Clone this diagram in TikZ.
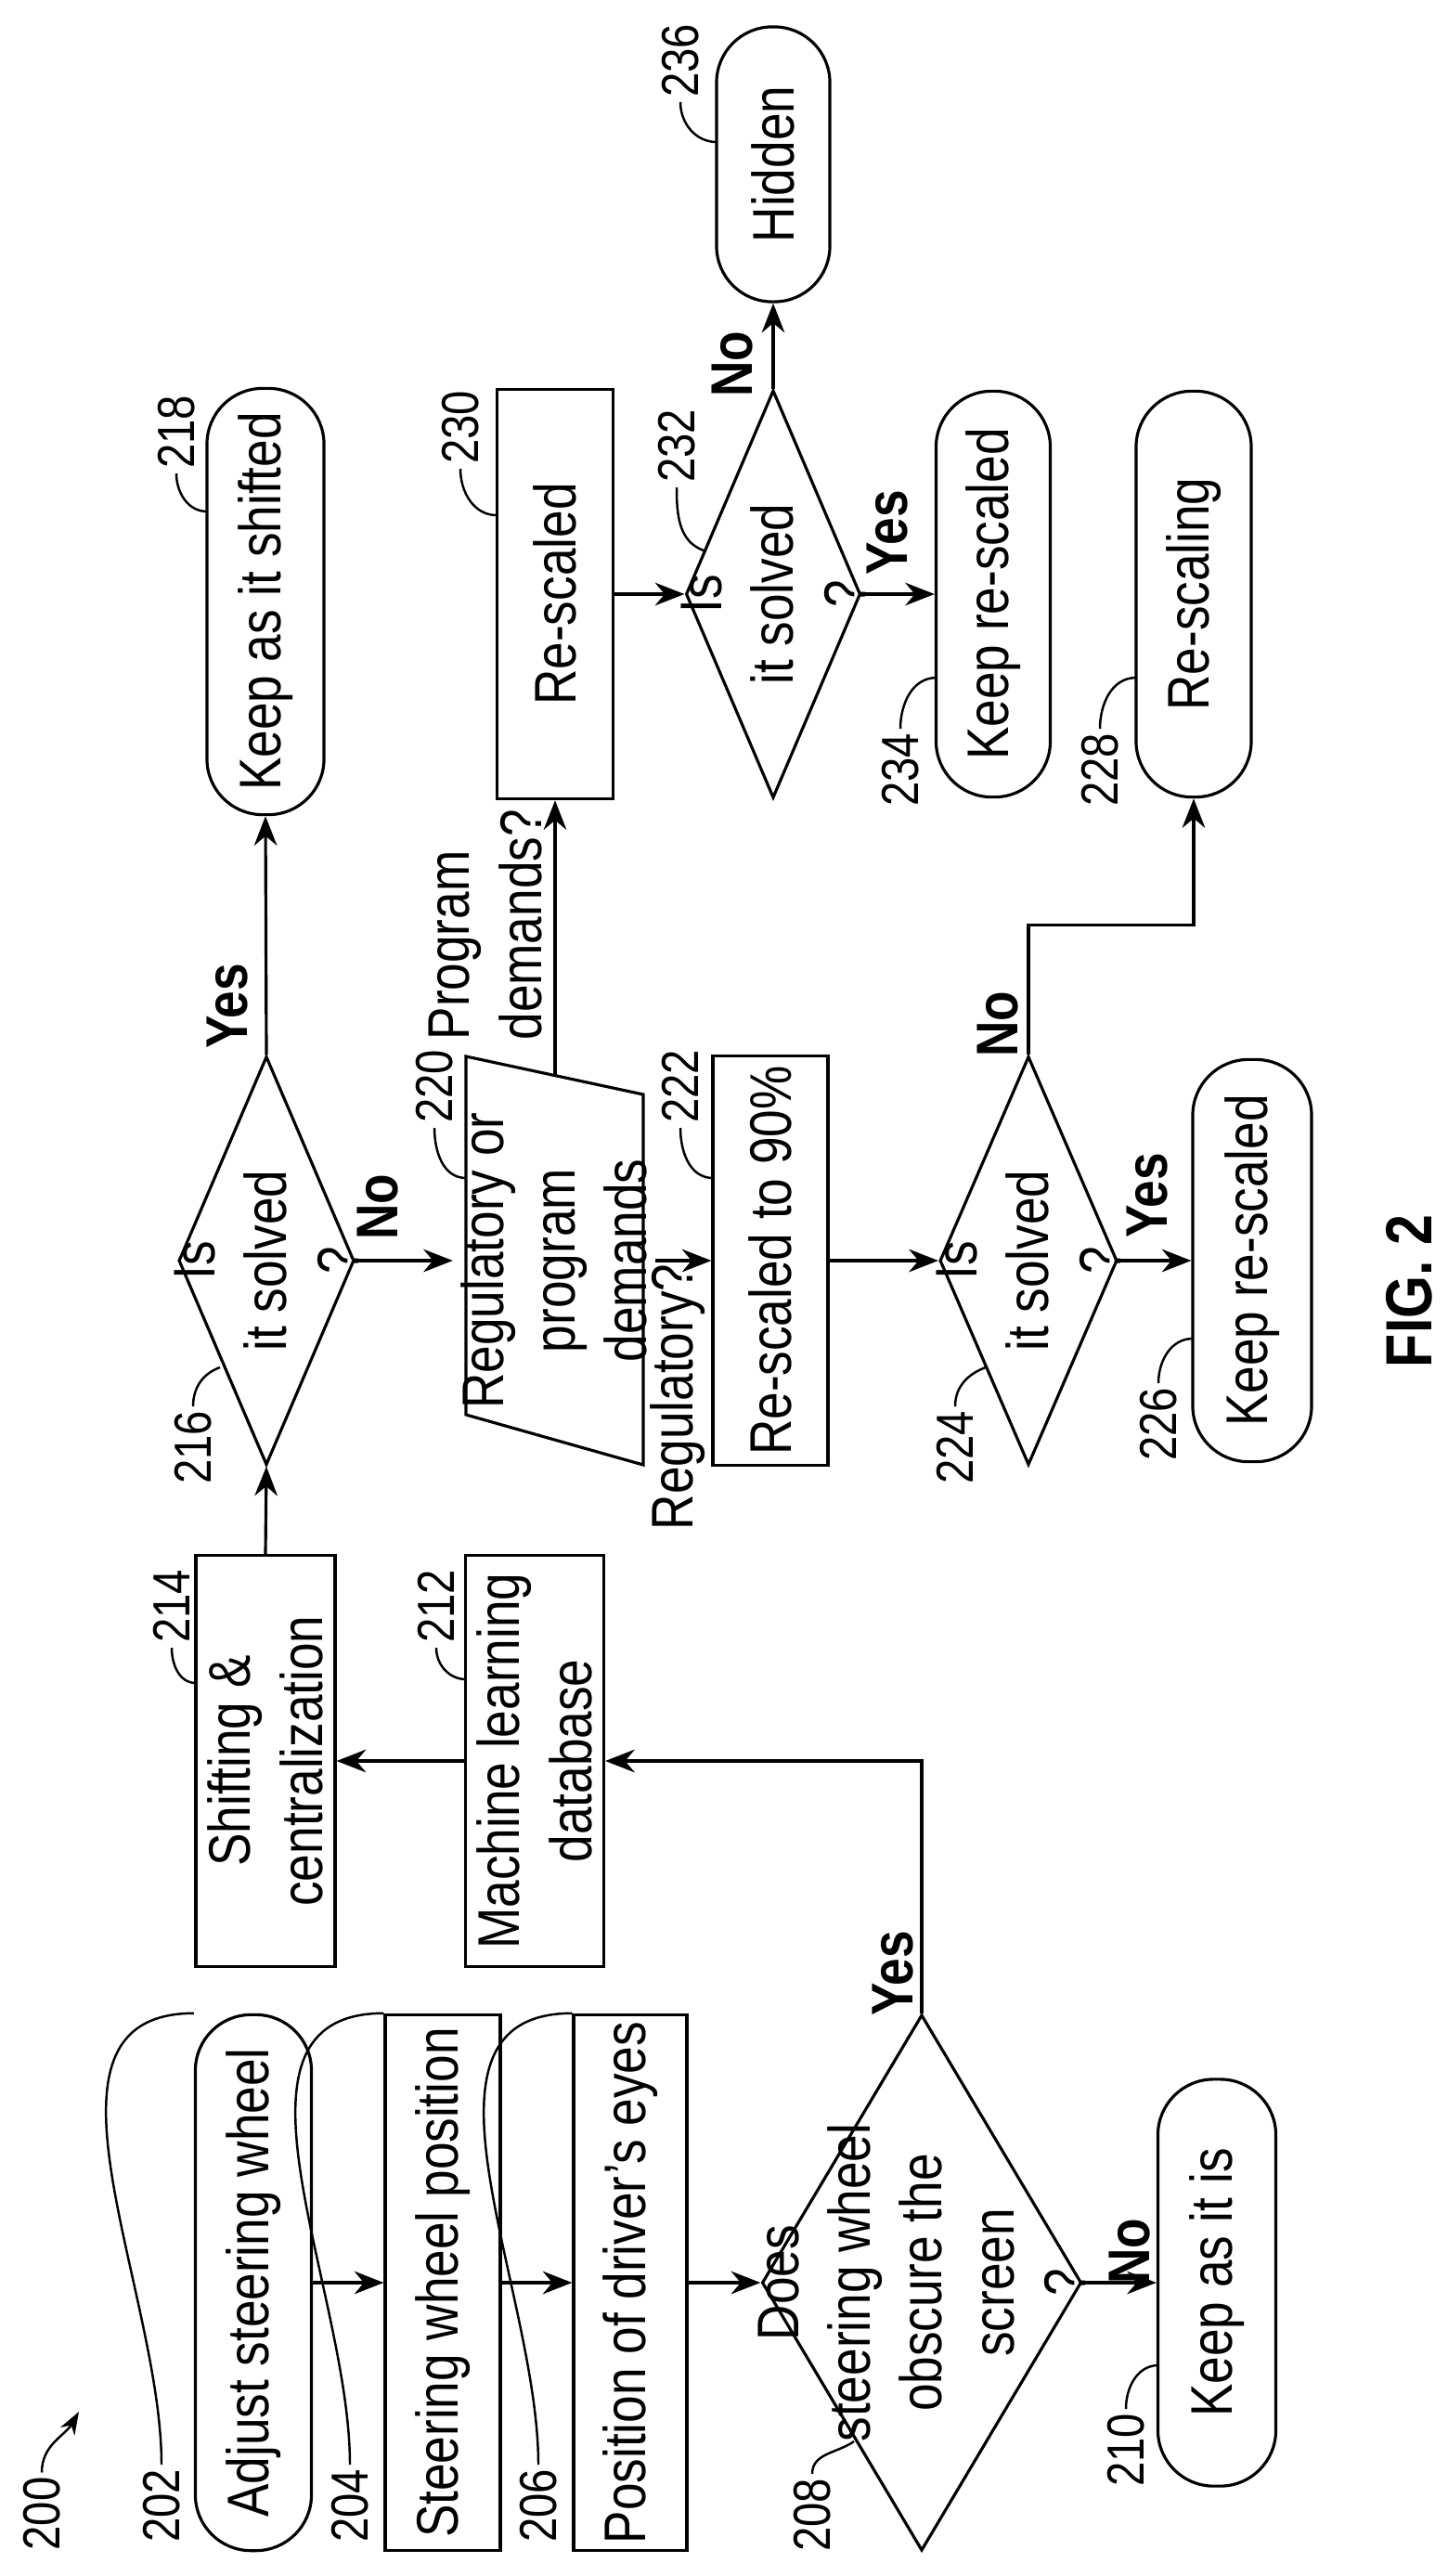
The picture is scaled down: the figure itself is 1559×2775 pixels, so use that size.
\documentclass[tikz,border=0pt]{standalone}
\usepackage{fontspec}
\setmainfont{Liberation Sans}[FakeStretch=0.84]
\usetikzlibrary{shapes.geometric, arrows.meta, positioning}
\tikzset{
  box/.style={draw, rectangle, rotate=90, inner sep=2pt, align=center, font=\fontsize{18}{22}\selectfont},
  term/.style={box, rounded corners=0.6cm},
  dec/.style={draw, diamond, inner sep=0pt},
  dectext/.style={rotate=90, align=center, inner sep=0pt, font=\fontsize{18}{22}\selectfont},
  num/.style={rotate=90, inner sep=1pt, font=\fontsize{16}{18}\selectfont},
  ans/.style={rotate=90, inner sep=1pt, font=\bfseries\fontsize{18}{20}\selectfont},
  flow/.style={-{Stealth[length=9pt,width=7pt]}},
  lead/.style={line width=0.7pt}
}
\begin{document}
\begin{tikzpicture}[line width=0.9pt, x=0.01cm, y=-0.01cm]
    \useasboundingbox (0,0) rectangle (1559,2775);
    % Left column
    \node[term, minimum width=5.77cm, minimum height=1.25cm] (n202) at (273,2459) {Adjust steering wheel};
    \node[box, minimum width=5.77cm, minimum height=1.24cm] (n204) at (477,2459) {Steering wheel position};
    \node[box, minimum width=5.77cm, minimum height=1.22cm] (n206) at (679,2459) {Position of driver's eyes};
    \node[dec, minimum width=3.44cm, minimum height=5.77cm] (d208) at (993,2459) {};
    \node[dectext] (t208) at (d208) {Does\\steering wheel\\obscure the\\screen\\?};
    \node[term, minimum width=4.38cm, minimum height=1.27cm] (n210) at (1311,2459) {Keep as it is};
    % Shifting
    \node[box, minimum width=4.43cm, minimum height=1.49cm] (n212) at (576,1897) {Machine learning\\database};
    \node[box, minimum width=4.43cm, minimum height=1.50cm] (n214) at (286,1897) {Shifting \&\\centralization};
    \node[dec, minimum width=1.89cm, minimum height=4.40cm] (d216) at (287,1358) {};
    \node[dectext] (t216) at (d216) {Is\\it solved\\?};
    \node[term, minimum width=4.59cm, minimum height=1.26cm] (n218) at (286,648) {Keep as it shifted};
    % Re-scaling
    \draw (502,1138) -- (693,1179) -- (693,1578) -- (502,1524) -- cycle;
    \node[box, draw=none, minimum width=4.0cm, minimum height=1.91cm] (n220) at (597,1358) {Regulatory or\\program\\demands};
    \coordinate (p220) at (598,1159);
    \node[box, minimum width=4.40cm, minimum height=1.24cm] (n222) at (830,1358) {Re-scaled to 90\%};
    \node[dec, minimum width=1.91cm, minimum height=4.40cm] (d224) at (1108,1358) {};
    \node[dectext] (t224) at (d224) {Is\\it solved\\?};
    \node[term, minimum width=4.33cm, minimum height=1.28cm] (n226) at (1349,1358) {Keep re-scaled};
    \node[term, minimum width=4.37cm, minimum height=1.24cm] (n228) at (1286,640) {Re-scaling};
    \node[box, minimum width=4.41cm, minimum height=1.25cm] (n230) at (598,640) {Re-scaled};
    \node[dec, minimum width=1.88cm, minimum height=4.39cm] (d232) at (833,640) {};
    \node[dectext] (t232) at (d232) {Is\\it solved\\?};
    \node[term, minimum width=4.37cm, minimum height=1.23cm] (n234) at (1070,640) {Keep re-scaled};
    \node[term, minimum width=2.96cm, minimum height=1.22cm] (n236) at (833,177) {Hidden};
    % Connectors
    \draw[flow] (n202.south) -- (n204.north);
    \draw[flow] (n204.south) -- (n206.north);
    \draw[flow] (n206.south) -- (d208.west);
    \draw[flow] (d208.east) -- (n210.north);
    \draw[flow] (d208.north) |- (n212.south);
    \draw[flow] (n212.north) -- (n214.south);
    \draw[flow] (n214.east) -- (d216.south);
    \draw[flow] (d216.north) -- (n218.west);
    \draw[flow] (d216.east) -- (n220.north);
    \draw[flow] (p220) -- (n230.west);
    \draw[flow] (n220.south) -- (n222.north);
    \draw[flow] (n222.south) -- (d224.west);
    \draw[flow] (d224.east) -- (n226.north);
    \draw[flow] (d224.north) -- ++(0,-140) -| (n228.west);
    \draw[flow] (n230.south) -- (d232.west);
    \draw[flow] (d232.east) -- (n234.north);
    \draw[flow] (d232.north) -- (n236.west);
    % Answers
    \node[ans] (y208) at (962,2126) {Yes};
    \node[ans] (x208) at (1217,2425) {No};
    \node[ans] (y216) at (245,1084) {Yes};
    \node[ans] (x216) at (407,1300) {No};
    \node[ans] (x224) at (1075,1103) {No};
    \node[ans] (y224) at (1236,1288) {Yes};
    \node[ans] (y232) at (956,574) {Yes};
    \node[ans] (x232) at (789,392) {No};
    \node[dectext] (r220) at (730,1505) {Regulatory?};
    \node[dectext, align=left, anchor=west] (q220) at (523,1122) {Program\\demands?};
    % Reference numerals
    \node[num, anchor=east] (l202) at (174,2655) {202};
    \node[num, anchor=east] (l204) at (377,2655) {204};
    \node[num, anchor=east] (l206) at (580,2655) {206};
    \node[num, anchor=east] (l208) at (875,2665) {208};
    \node[num, anchor=east] (l210) at (1213,2595) {210};
    \node[num, anchor=east] (l216) at (208,1515) {216};
    \node[num, anchor=east] (l224) at (1029,1515) {224};
    \node[num, anchor=east] (l226) at (1248,1490) {226};
    \node[num, anchor=east] (l228) at (1185,785) {228};
    \node[num, anchor=east] (l234) at (970,785) {234};
    \node[num, anchor=west] (l214) at (185,1775) {214};
    \node[num, anchor=west] (l212) at (470,1775) {212};
    \node[num, anchor=west] (l218) at (190,510) {218};
    \node[num, anchor=west] (l220) at (468,1215) {220};
    \node[num, anchor=west] (l222) at (733,1215) {222};
    \node[num, anchor=west] (l230) at (496,505) {230};
    \node[num, anchor=west] (l232) at (729,525) {232};
    \node[num, anchor=west] (l236) at (733,110) {236};
    \draw[lead] (l202.east) to[out=90,in=180] (n202.north east);
    \draw[lead] (l204.east) to[out=90,in=180] ([xshift=0.0cm]n204.north east);
    \draw[lead] (l206.east) to[out=90,in=180] (n206.north east);
    \draw[lead] (l208.east) to[out=90,in=215] (920,2630);
    \draw[lead] (l210.east) to[out=90,in=180] (1248,2548);
    \draw[lead] (l216.east) to[out=90,in=200] (237,1473);
    \draw[lead] (l224.east) to[out=90,in=200] (1062,1473);
    \draw[lead] (l226.east) to[out=90,in=180] (1285,1442);
    \draw[lead] (l228.east) to[out=90,in=180] (1224,730);
    \draw[lead] (l234.east) to[out=90,in=180] (1009,730);
    \draw[lead] (l214.west) to[out=-90,in=180] (211,1813);
    \draw[lead] (l212.west) to[out=-90,in=180] (502,1809);
    \draw[lead] (l218.west) to[out=-90,in=180] (223,551);
    \draw[lead] (l220.west) to[out=-90,in=180] (502,1269);
    \draw[lead] (l222.west) to[out=-90,in=180] (768,1269);
    \draw[lead] (l230.west) to[out=-90,in=180] (535,555);
    \draw[lead] (l232.west) to[out=-90,in=160] (758,593);
    \draw[lead] (l236.west) to[out=-90,in=180] (772,153);
    \node[num] (l200) at (45,2708) {200};
    \coordinate (a200) at (85,2598);
    \draw[lead, -{Stealth[length=7pt,width=5pt]}] (l200.east) to[out=90,in=-120] (a200);
    \node[ans, font=\bfseries\fontsize{20}{22}\selectfont] (fig) at (1518,1391) {FIG. 2};
\end{tikzpicture}
\end{document}
